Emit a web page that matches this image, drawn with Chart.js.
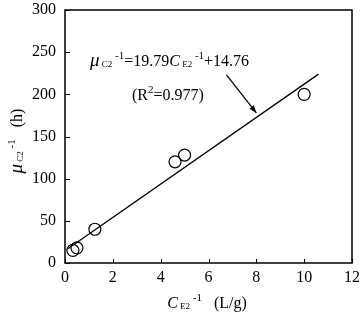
<!DOCTYPE html>
<html><head><meta charset="utf-8">
<script src="https://cdn.jsdelivr.net/npm/chart.js@4/dist/chart.umd.min.js"></script>
<style>html,body{margin:0;padding:0;background:#fff}#w{width:360px;height:313px}</style>
</head><body><div id="w"><canvas id="c"></canvas></div>
<script>
const pointsX = [0.33, 0.5, 1.25, 4.6, 5.0, 10.0];
const pointsY = [15, 18, 40, 120, 128, 200];
const fitX = [0.12, 10.6];
const fitY = [17, 224];
const xTicks = [0, 2, 4, 6, 8, 10, 12];
const yTicks = [0, 50, 100, 150, 200, 250, 300];
const arrowFrom = {x: 6.75, y: 223};
const arrowTo = {x: 8.0, y: 178};

const SERIF = '"Liberation Serif", "Times New Roman", serif';
function f(sz, it){ return (it?'italic ':'') + sz + 'px ' + SERIF; }

function richWidth(ctx, parts){
  let w=0; for(const p of parts){ ctx.font=p.font; w+=ctx.measureText(p.t).width + (p.gap||0);} return w;
}
function drawRich(ctx, parts, x, y){
  for(const p of parts){ ctx.font=p.font; ctx.fillText(p.t, x, y+(p.dy||0)); x += ctx.measureText(p.t).width + (p.gap||0); }
}

const overlay = {
  id:'overlay',
  afterDraw(chart){
    const ctx = chart.ctx, a = chart.chartArea, xs = chart.scales.x, ys = chart.scales.y;
    ctx.save();
    ctx.strokeStyle='#000'; ctx.fillStyle='#000';
    ctx.lineWidth=1.5;
    ctx.strokeRect(a.left, a.top, a.right-a.left, a.bottom-a.top);
    ctx.lineWidth=1;
    ctx.beginPath();
    for(const v of xTicks){ const px=Math.round(xs.getPixelForValue(v))+0.5; ctx.moveTo(px,a.bottom); ctx.lineTo(px,a.bottom-4); }
    for(const v of yTicks){ const py=Math.round(ys.getPixelForValue(v))+0.5; ctx.moveTo(a.left,py); ctx.lineTo(a.left+5,py); }
    ctx.stroke();
    const x1=xs.getPixelForValue(arrowFrom.x), y1=ys.getPixelForValue(arrowFrom.y);
    const x2=xs.getPixelForValue(arrowTo.x), y2=ys.getPixelForValue(arrowTo.y);
    ctx.lineWidth=1.3;
    ctx.beginPath(); ctx.moveTo(x1,y1); ctx.lineTo(x2,y2); ctx.stroke();
    const ang=Math.atan2(y2-y1,x2-x1), L=8, W=0.35;
    ctx.beginPath(); ctx.moveTo(x2,y2);
    ctx.lineTo(x2-L*Math.cos(ang-W), y2-L*Math.sin(ang-W));
    ctx.lineTo(x2-L*Math.cos(ang+W), y2-L*Math.sin(ang+W));
    ctx.closePath(); ctx.fill();
    ctx.textBaseline='alphabetic'; ctx.textAlign='left';
    const eq=[
      {t:'μ', font:f(19,true)},
      {t:' C2', font:f(9), dy:1},
      {t:' -1', font:f(11), dy:-7},
      {t:'=19.79', font:f(16)},
      {t:'C', font:f(16,true)},
      {t:' E2', font:f(9), dy:1},
      {t:' -1', font:f(11), dy:-7},
      {t:'+14.76', font:f(16)}
    ];
    drawRich(ctx, eq, 90, 66);
    const r2=[
      {t:'(R', font:f(16)},
      {t:'2', font:f(11), dy:-7},
      {t:'=0.977)', font:f(16)}
    ];
    drawRich(ctx, r2, 132, 100);
    const xt=[
      {t:'C', font:f(16,true)},
      {t:' E2', font:f(9), dy:1},
      {t:' -1', font:f(11), dy:-7},
      {t:'   (L/g)', font:f(16)}
    ];
    const xw=richWidth(ctx,xt);
    drawRich(ctx, xt, 207 - xw/2, 308);
    const yt=[
      {t:'μ', font:f(19,true)},
      {t:' C2', font:f(9), dy:1},
      {t:' -1', font:f(11), dy:-7},
      {t:'   (h)', font:f(16)}
    ];
    const yw=richWidth(ctx,yt);
    ctx.translate(22, 141); ctx.rotate(-Math.PI/2);
    drawRich(ctx, yt, -yw/2, 0);
    ctx.restore();
  }
};

new Chart(document.getElementById('c'), {
  type:'scatter',
  data:{datasets:[
    {data: pointsX.map((x,i)=>({x, y:pointsY[i]})), pointStyle:'circle', pointRadius:6, pointHoverRadius:6,
     borderColor:'#000', backgroundColor:'rgba(0,0,0,0)', borderWidth:1.2, showLine:false},
    {data: fitX.map((x,i)=>({x, y:fitY[i]})), showLine:true, pointRadius:0, borderColor:'#000', borderWidth:1.3, fill:false}
  ]},
  options:{
    responsive:true, maintainAspectRatio:false, animation:false,
    layout:{padding:{left:0, right:8, top:10, bottom:0}},
    plugins:{legend:{display:false}, tooltip:{enabled:false}},
    scales:{
      x:{type:'linear', min:0, max:12,
        afterBuildTicks(s){ s.ticks = xTicks.map(v=>({value:v})); },
        afterFit(s){ s.height=50; s.paddingLeft=0; s.paddingRight=0; },
        grid:{display:false, drawTicks:false}, border:{display:false},
        ticks:{color:'#000', font:{family:SERIF, size:16}, padding:5, maxRotation:0}
      },
      y:{type:'linear', min:0, max:300,
        afterBuildTicks(s){ s.ticks = yTicks.map(v=>({value:v})); },
        afterFit(s){ s.width=65; s.paddingTop=0; s.paddingBottom=0; },
        grid:{display:false, drawTicks:false}, border:{display:false},
        ticks:{color:'#000', font:{family:SERIF, size:16}, padding:9}
      }
    }
  },
  plugins:[overlay]
});
</script>
</body></html>
